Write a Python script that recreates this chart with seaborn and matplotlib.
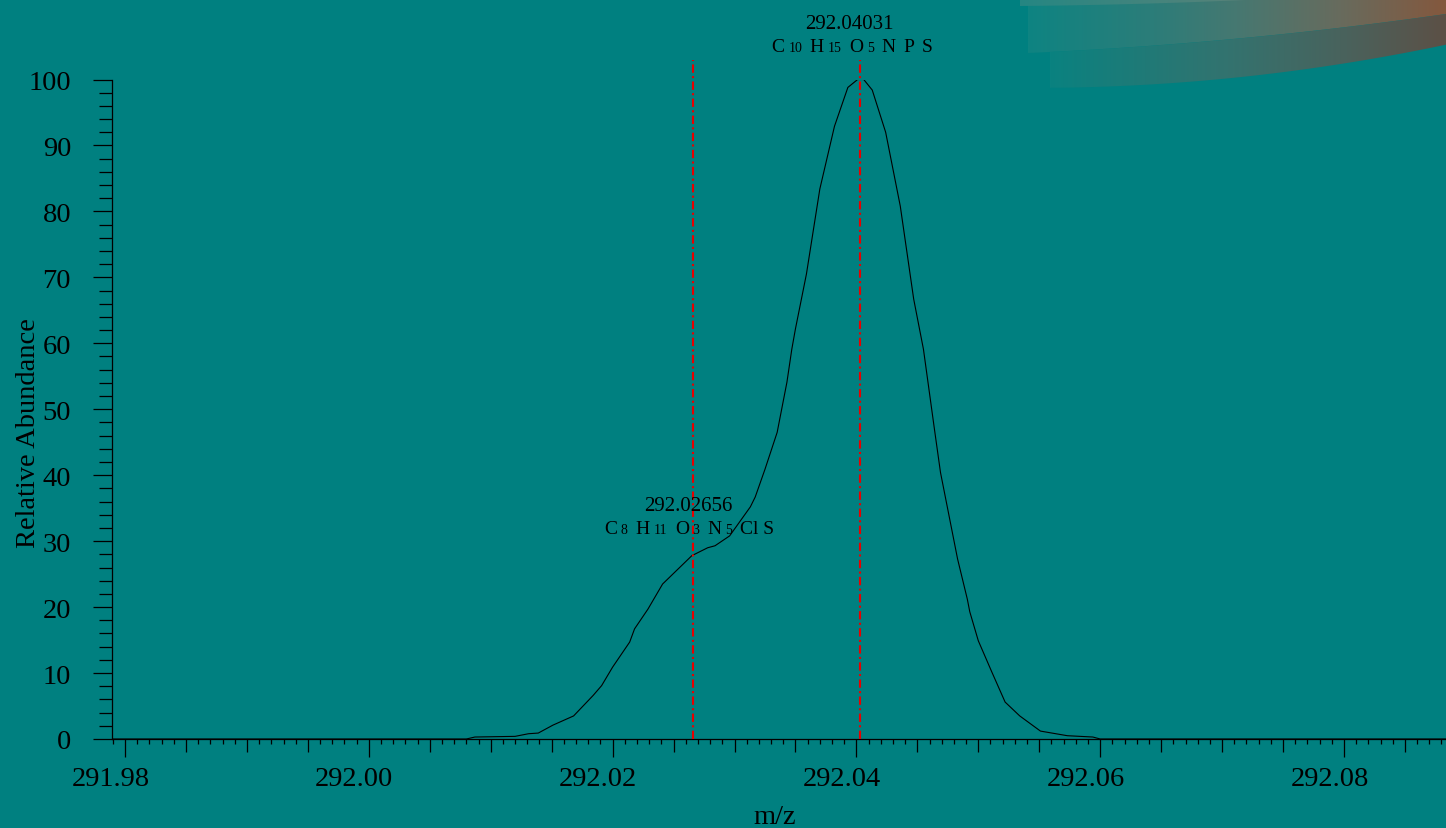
import numpy as np
import pandas as pd
import matplotlib
matplotlib.use("Agg")
import matplotlib.pyplot as plt
import seaborn as sns
from matplotlib.patches import Polygon
from matplotlib.colors import LinearSegmentedColormap
from matplotlib.ticker import MultipleLocator, FuncFormatter
from matplotlib.offsetbox import TextArea, HPacker, AnnotationBbox, DrawingArea
from matplotlib.transforms import ScaledTranslation

# ---------------- data ----------------
mz = [291.9790, 292.0080, 292.0087, 292.0120, 292.0131, 292.0139, 292.0151, 292.0168,
      292.0184, 292.0191, 292.0200, 292.0214, 292.0218, 292.0229, 292.0241, 292.0265,
      292.0278, 292.0284, 292.0296, 292.0313, 292.0317, 292.0325, 292.0335, 292.0343,
      292.0347, 292.0350, 292.0359, 292.0370, 292.0382, 292.0393, 292.0401, 292.0406,
      292.0413, 292.0424, 292.0436, 292.0447, 292.0455, 292.0464, 292.0469, 292.0483,
      292.0491, 292.0493, 292.0500, 292.0511, 292.0522, 292.0534, 292.0551, 292.0573,
      292.0594, 292.0600, 292.0884]
abundance = [0, 0, 0.3, 0.4, 0.8, 0.9, 2.1, 3.5,
             6.6, 8.1, 10.9, 14.7, 16.7, 19.7, 23.5, 27.8,
             29.0, 29.3, 30.8, 35.2, 36.7, 40.9, 46.5, 54.1,
             59.1, 62.2, 70.5, 83.4, 92.9, 98.8, 100.0, 100.0,
             98.4, 92.0, 80.8, 66.7, 59.1, 47.0, 40.4, 27.3,
             21.2, 19.3, 14.9, 10.2, 5.6, 3.5, 1.2, 0.5,
             0.3, 0.0, 0.0]

peak_mz = [292.04031, 292.02656]
peak_labels = ["292.04031", "292.02656"]
formula_1 = [("C", "main"), ("10", "sub"), ("H", "main"), ("15", "sub"),
             ("O", "main"), ("5", "sub"), ("N", "main"), ("P", "main"), ("S", "main")]
formula_2 = [("C", "main"), ("8", "sub"), ("H", "main"), ("11", "sub"),
             ("O", "main"), ("3", "sub"), ("N", "main"), ("5", "sub"), ("Cl S", "main")]

x_ticks = [291.98, 292.00, 292.02, 292.04, 292.06, 292.08]
y_ticks = [0, 10, 20, 30, 40, 50, 60, 70, 80, 90, 100]

df = pd.DataFrame({"mz": mz, "abundance": abundance})

# ---------------- style ----------------
TEAL = "#008080"
sns.set_theme(style="ticks")
SERIF = ["Liberation Serif", "DejaVu Serif"]
plt.rcParams["font.family"] = SERIF
plt.rcParams["axes.edgecolor"] = "black"
plt.rcParams["xtick.color"] = "black"
plt.rcParams["ytick.color"] = "black"
plt.rcParams["text.color"] = "black"
plt.rcParams["axes.labelcolor"] = "black"

W, H = 1446, 829
fig = plt.figure(figsize=(W / 100, H / 100), dpi=100, facecolor=TEAL)

# ---------------- decorative swoosh (top right) ----------------
bg = fig.add_axes([0, 0, 1, 1], zorder=-1)
bg.set_facecolor(TEAL)


def band(x0, x1, top_pts, bot_pts, stops):
    xs = np.linspace(x0, x1, 120)
    tx, ty = zip(*top_pts)
    bx, by = zip(*bot_pts)
    top = np.polyval(np.polyfit(tx, ty, min(2, len(tx) - 1)), xs)
    bot = np.polyval(np.polyfit(bx, by, min(2, len(bx) - 1)), xs)
    verts = list(zip(xs, top)) + list(zip(xs[::-1], bot[::-1]))
    poly = Polygon(verts, closed=True, facecolor="none", edgecolor="none")
    bg.add_patch(poly)
    cmap = LinearSegmentedColormap.from_list("g", stops)
    grad = np.linspace(0, 1, 256)[None, :]
    im = bg.imshow(grad, cmap=cmap, extent=(x0, x1, bot.max() + 1, top.min() - 1),
                   aspect="auto", interpolation="bilinear")
    im.set_clip_path(poly)


band(1028, 1446, [(1028, -2), (1446, -2)], [(1028, 54), (1233, 40), (1446, 15)],
     [(0.0, "#0e8482"), (0.3, "#2c7d79"), (0.5, "#467871"), (0.75, "#686b5d"), (1.0, "#84583e")])
band(1050, 1446, [(1028, 54), (1233, 40), (1446, 15)], [(1050, 89), (1233, 78), (1367, 62), (1446, 45)],
     [(0.0, "#0a8280"), (0.45, "#33736f"), (0.75, "#4a625c"), (1.0, "#5c5046")])
band(1020, 1267, [(1020, -2), (1267, -2)], [(1020, 7), (1133, 5), (1267, 0)],
     [(0.0, "#258783"), (1.0, "#5f8278")])
bg.set_xlim(0, W)
bg.set_ylim(H, 0)
bg.axis("off")

# ---------------- main axes ----------------
ax = fig.add_axes([112 / W, 89 / H, (W - 112) / W, (740 - 80.5) / H])
ax.set_facecolor("none")

sns.lineplot(data=df, x="mz", y="abundance", ax=ax, color="black", linewidth=0.8)

ax.set_xlim(291.97893, 292.08837)
ax.set_ylim(0, 100)

# red dash-dot reference lines
for m in peak_mz:
    ax.plot([m, m], [0, 103.0], color="#e80000", linewidth=1.5,
            linestyle=(0, (4, 1.6, 1, 1.6)), clip_on=False, zorder=3)

# numeric labels
ax.annotate(peak_labels[0], xy=(peak_mz[0], 107.8), xytext=(-11, 0), textcoords="offset pixels",
            ha="center", va="baseline", fontsize=15, annotation_clip=False)
ax.annotate(peak_labels[1], xy=(peak_mz[1], 34.7), xytext=(-4, 0), textcoords="offset pixels",
            ha="center", va="baseline", fontsize=15, annotation_clip=False)


def formula_box(tokens, g_sub, g_main):
    children = []
    for i, (s, kind) in enumerate(tokens):
        if i > 0:
            g = g_sub if kind == "sub" else g_main
            children.append(DrawingArea(g, 1, 0, 0))
        size = 14 if kind == "main" else 10
        children.append(TextArea(s, textprops=dict(fontsize=size, color="black", family=SERIF)))
    return HPacker(children=children, align="baseline", pad=0, sep=0)


for tokens, m, ybot, dx, gs, gm in [(formula_1, peak_mz[0], 103.7, -8.5, 3.0, 5.3),
                                    (formula_2, peak_mz[1], 30.6, -3.5, 2.6, 5.8)]:
    ab = AnnotationBbox(formula_box(tokens, gs, gm), (m, ybot), xybox=(dx, 0), boxcoords="offset pixels",
                        box_alignment=(0.5, 0.0), frameon=False, pad=0, annotation_clip=False)
    ab.set_zorder(4)
    ax.add_artist(ab)

# spines
sns.despine(ax=ax)
ax.spines["left"].set_linewidth(0.9)
ax.spines["bottom"].set_linewidth(0.9)

# ticks
ax.set_yticks(y_ticks)
ax.yaxis.set_minor_locator(MultipleLocator(2))
ax.xaxis.set_major_locator(MultipleLocator(0.005))
ax.xaxis.set_minor_locator(MultipleLocator(0.001))


def xfmt(v, pos):
    k = round((v - 291.98) / 0.02, 6)
    if abs(k - round(k)) < 1e-4:
        return f"{v:.2f}"
    return ""


ax.xaxis.set_major_formatter(FuncFormatter(xfmt))
ax.tick_params(axis="y", which="major", length=13.7, width=0.9, pad=15.8, labelsize=20.5)
ax.tick_params(axis="y", which="minor", length=9.4, width=0.9)
ax.tick_params(axis="x", which="major", length=9.4, width=0.9, pad=10.0, labelsize=20.5)
ax.tick_params(axis="x", which="minor", length=3.6, width=0.9)

shift = ScaledTranslation(-14.5 / 100, 0, fig.dpi_scale_trans)
locs = ax.xaxis.get_majorticklocs()
for loc, tick in zip(locs, ax.xaxis.get_major_ticks(len(locs))):
    k = (loc - 291.98) / 0.02
    if abs(k - round(k)) < 1e-4:
        tick.tick1line.set_markersize(13.2)
    tick.label1.set_transform(tick.label1.get_transform() + shift)

ax.set_xlabel("m/z", fontsize=20.5)
ax.set_ylabel("Relative Abundance", fontsize=20.5)
ax.xaxis.set_label_coords(0.497, -0.098)
ax.yaxis.set_label_coords(-0.0533, 0.466)

fig.savefig("out.png", dpi=100, facecolor=TEAL)
